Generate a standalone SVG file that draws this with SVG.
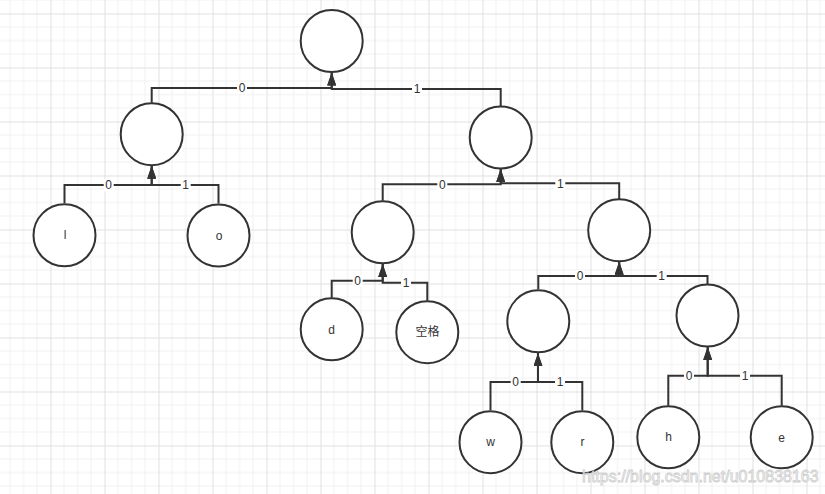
<svg xmlns="http://www.w3.org/2000/svg" width="825" height="494" viewBox="0 0 825 494">
<style>
.node circle{fill:#fff;stroke:#333;stroke-width:2}
.node text{font-family:"Liberation Sans","Noto Sans CJK SC",sans-serif;font-size:12px;fill:#333;text-anchor:middle;dominant-baseline:central}
.edge{fill:none;stroke:#333;stroke-width:2;marker-end:url(#arr)}
.lbl rect{fill:#fff}
.lbl text{font-family:"Liberation Sans",sans-serif;font-size:12px;fill:#333;text-anchor:middle;dominant-baseline:central}
</style>
<defs>
<pattern id="grid" patternUnits="userSpaceOnUse" x="-3.5" y="13.5" width="54" height="54">
<path d="M13.5,0V54M27,0V54M40.5,0V54M0,13.5H54M0,27H54M0,40.5H54" stroke="#f0f0f0" stroke-width="1" fill="none"/>
<path d="M0.5,0V54M0,0.5H54" stroke="#e0e0e0" stroke-width="1" fill="none"/>
</pattern>
<marker id="arr" markerUnits="userSpaceOnUse" viewBox="0 0 13 9" refX="13" refY="4.5" markerWidth="13" markerHeight="9" orient="auto">
<path d="M0,0L13,4.5L0,9z" fill="#333"/>
</marker>
</defs>
<rect width="825" height="494" fill="#fff"/>
<rect width="825" height="494" fill="url(#grid)"/>
<g id="connectors">
<path class="edge" d="M151.7,102.7V88H331.7V72.5"/>
<path class="edge" d="M500.7,106V89H331.7V72.5"/>
<path class="edge" d="M64.5,203.3V185H151.7V165.7"/>
<path class="edge" d="M218.5,203.5V185H151.7V165.7"/>
<path class="edge" d="M382.7,200.7V184.3H500.7V169"/>
<path class="edge" d="M619.2,199V183.3H500.7V169"/>
<path class="edge" d="M331.7,297.7V280.7H382.7V264"/>
<path class="edge" d="M427.3,300.7V282.7H382.7V264"/>
<path class="edge" d="M538.3,289.3V276H619.2V261.7"/>
<path class="edge" d="M707.5,284V276H619.2V261.7"/>
<path class="edge" d="M490.5,410.3V382H538V353.3"/>
<path class="edge" d="M582.3,410.3V382H538V353.3"/>
<path class="edge" d="M668.3,405.7V375.7H707.7V347"/>
<path class="edge" d="M781.7,405.7V375.7H707.7V347"/>
<g class="lbl">
<rect x="237" y="82" width="10" height="12"/><text x="242" y="88">0</text>
<rect x="412" y="83" width="10" height="12"/><text x="417" y="89">1</text>
<rect x="103.7" y="179" width="10" height="12"/><text x="108.7" y="185">0</text>
<rect x="180.7" y="179" width="10" height="12"/><text x="185.7" y="185">1</text>
<rect x="437.3" y="178.5" width="10" height="12"/><text x="442.3" y="184.5">0</text>
<rect x="555.3" y="177.5" width="10" height="12"/><text x="560.3" y="183.5">1</text>
<rect x="352.7" y="275" width="10" height="12"/><text x="357.7" y="281">0</text>
<rect x="401" y="277" width="10" height="12"/><text x="406" y="283">1</text>
<rect x="575" y="270" width="10" height="12"/><text x="580" y="276">0</text>
<rect x="656.7" y="270" width="10" height="12"/><text x="661.7" y="276">1</text>
<rect x="510.7" y="376" width="10" height="12"/><text x="515.7" y="382">0</text>
<rect x="555" y="376" width="10" height="12"/><text x="560" y="382">1</text>
<rect x="684" y="370" width="10" height="12"/><text x="689" y="376">0</text>
<rect x="740" y="370" width="10" height="12"/><text x="745" y="376">1</text>
</g>
</g>
<g id="root" class="node"><circle cx="331.7" cy="41" r="31"/></g>
<g id="n0" class="node"><circle cx="151.7" cy="134.2" r="31"/></g>
<g id="n1" class="node"><circle cx="500.7" cy="137.5" r="31"/></g>
<g id="leaf-l" class="node"><circle cx="64.5" cy="235.3" r="31"/><text x="65" y="235">l</text></g>
<g id="leaf-o" class="node"><circle cx="218.5" cy="235.5" r="31"/><text x="219" y="236">o</text></g>
<g id="n10" class="node"><circle cx="382.7" cy="232.3" r="31"/></g>
<g id="n11" class="node"><circle cx="619.2" cy="230.3" r="31"/></g>
<g id="leaf-d" class="node"><circle cx="331.7" cy="329.3" r="31"/><text x="331.7" y="329.5">d</text></g>
<g id="leaf-space" class="node"><circle cx="427.3" cy="332.2" r="31"/><text x="427.5" y="332">空格</text></g>
<g id="n110" class="node"><circle cx="538.3" cy="321.3" r="31"/></g>
<g id="n111" class="node"><circle cx="707.5" cy="315.5" r="31"/></g>
<g id="leaf-w" class="node"><circle cx="490.5" cy="442.2" r="31"/><text x="490.5" y="442">w</text></g>
<g id="leaf-r" class="node"><circle cx="582.3" cy="442.2" r="31"/><text x="582.5" y="442">r</text></g>
<g id="leaf-h" class="node"><circle cx="668.3" cy="437.3" r="31"/><text x="668.5" y="437">h</text></g>
<g id="leaf-e" class="node"><circle cx="781.7" cy="437.3" r="31"/><text x="781.7" y="437.5">e</text></g>
<text x="582" y="482" font-family="Liberation Sans,sans-serif" font-size="16" fill="#ffffff" stroke="#c8c8c8" stroke-width="0.8" opacity="0.9">https://blog.csdn.net/u010838163</text>
</svg>
